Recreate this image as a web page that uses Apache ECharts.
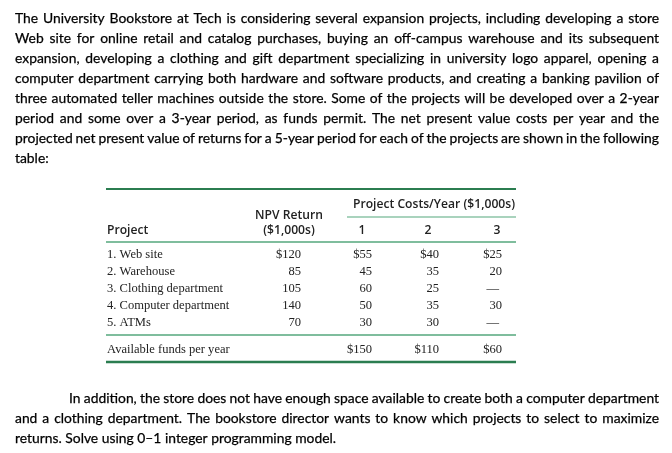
<!DOCTYPE html>
<html><head><meta charset="utf-8">
<script src="https://cdn.jsdelivr.net/npm/echarts@6/dist/echarts.min.js"></script>
<style>html,body{margin:0;padding:0;background:#fff}#c{width:672px;height:453px}</style>
</head><body><div id="c"></div>
<script>
// ---- content ----
const introLines = [
  'The University Bookstore at Tech is considering several expansion projects, including developing a store',
  'Web site for online retail and catalog purchases, buying an off-campus warehouse and its subsequent',
  'expansion, developing a clothing and gift department specializing in university logo apparel, opening a',
  'computer department carrying both hardware and software products, and creating a banking pavilion of',
  'three automated teller machines outside the store. Some of the projects will be developed over a 2-year',
  'period and some over a 3-year period, as funds permit. The net present value costs per year and the',
  'projected net present value of returns for a 5-year period for each of the projects are shown in the following',
  'table:'
];
const closingLines = [
  'In addition, the store does not have enough space available to create both a computer department',
  'and a clothing department. The bookstore director wants to know which projects to select to maximize',
  'returns. Solve using 0\u20131 integer programming model.'
];
const projects = ['1. Web site', '2. Warehouse', '3. Clothing department', '4. Computer department', '5. ATMs'];
const npvReturn = [120, 85, 105, 140, 70];
const costYear1 = [55, 45, 60, 50, 30];
const costYear2 = [40, 35, 25, 35, 30];
const costYear3 = [25, 20, null, 30, null];
const availableFunds = [150, 110, 60];
const yearLabels = ['1', '2', '3'];
const headProject = 'Project';
const headNpv = ['NPV Return', '($1,000s)'];
const headCosts = 'Project Costs/Year ($1,000s)';
const fundsLabel = 'Available funds per year';

// ---- layout / style ----
const PARA_FONT = '14px Lato';
const HEAD_FONT = '600 12.5px "Open Sans"';
const BODY_FONT = '13px "Liberation Serif"';
const TXT = '#000000';
const TBL_TXT = '#222222';
const GREEN_DARK = '#2b7d50';
const GREEN = '#55a77c';

const cv = document.createElement('canvas').getContext('2d');
function measure(t, font) { cv.font = font; return cv.measureText(t).width; }

function render() {
  const g = [];
  const L = 15, R = 659;
  const baseScale = (336 - L) / measure(closingLines[2], PARA_FONT);

  function para(line, y, x0, justified) {
    const words = line.split(' ');
    const ws = words.map(w => measure(w, PARA_FONT));
    const sum = ws.reduce((a, b) => a + b, 0);
    let s = baseScale, gap;
    if (justified && words.length > 1) {
      gap = (R - x0 - sum * s) / (words.length - 1);
      const minGap = 2.2;
      if (gap < minGap) { s = (R - x0 - minGap * (words.length - 1)) / sum; gap = minGap; }
    } else {
      gap = measure(' ', PARA_FONT) * s;
    }
    let x = x0;
    words.forEach((w, i) => {
      g.push({ type: 'text', x: x, y: y, scaleX: s, silent: true,
        style: { text: w, font: PARA_FONT, fill: TXT, align: 'left', verticalAlign: 'middle',
                 stroke: TXT, lineWidth: 0.25 } });
      x += ws[i] * s + gap;
    });
  }
  introLines.forEach((ln, i) => para(ln, 18.5 + 20 * i, L, i < introLines.length - 1));
  closingLines.forEach((ln, i) => para(ln, 398.5 + 20 * i, i === 0 ? 69 : L, i < closingLines.length - 1));

  // ---- table ----
  const headScale = 162 / measure(headCosts, HEAD_FONT);
  const bodyScale = 116 / measure(projects[2], BODY_FONT);
  function txt(t, x, y, font, sc, align) {
    g.push({ type: 'text', x: x, y: y, scaleX: sc, silent: true,
      style: { text: t, font: font, fill: TBL_TXT, align: align, verticalAlign: 'middle' } });
  }
  function hline(x1, x2, y, w, c) {
    g.push({ type: 'line', silent: true, shape: { x1: x1, y1: y, x2: x2, y2: y }, style: { stroke: c, lineWidth: w } });
  }
  const TL = 106, TR = 516;
  hline(TL, TR, 189, 2, GREEN_DARK);
  txt(headCosts, 434, 204, HEAD_FONT, headScale, 'center');
  hline(347, TR, 217, 1.2, GREEN);
  txt(headNpv[0], 289, 215, HEAD_FONT, headScale, 'center');
  txt(headNpv[1], 289, 230, HEAD_FONT, headScale, 'center');
  txt(headProject, 107, 230, HEAD_FONT, headScale, 'left');
  const yearCenters = [362, 428, 497];
  yearLabels.forEach((t, i) => txt(t, yearCenters[i], 230, HEAD_FONT, headScale, 'center'));
  hline(TL, TR, 242, 1.5, GREEN);

  const npvRight = 301;
  const costRights = [372, 439, 502];
  const costCols = [costYear1, costYear2, costYear3];
  projects.forEach((p, r) => {
    const y = 255 + 17 * r;
    const pre = r === 0 ? '$' : '';
    txt(p, 107, y, BODY_FONT, bodyScale, 'left');
    txt(pre + npvReturn[r], npvRight, y, BODY_FONT, bodyScale, 'right');
    costCols.forEach((col, c) => {
      const v = col[r];
      if (v == null) txt('\u2014', costRights[c] - 3, y, BODY_FONT, bodyScale, 'right');
      else txt(pre + v, costRights[c], y, BODY_FONT, bodyScale, 'right');
    });
  });
  hline(TL, TR, 335, 1.5, GREEN);
  txt(fundsLabel, 107, 350, BODY_FONT, bodyScale, 'left');
  availableFunds.forEach((v, c) => txt('$' + v, costRights[c], 350, BODY_FONT, bodyScale, 'right'));
  hline(TL, TR, 362, 2.5, GREEN_DARK);

  const chart = echarts.init(document.getElementById('c'), null, { renderer: 'canvas' });
  chart.setOption({ backgroundColor: '#ffffff', animation: false, graphic: { elements: g } });
}
Promise.all([
  document.fonts.load(PARA_FONT), document.fonts.load(HEAD_FONT), document.fonts.load(BODY_FONT)
]).then(render, render);
</script>
</body></html>
